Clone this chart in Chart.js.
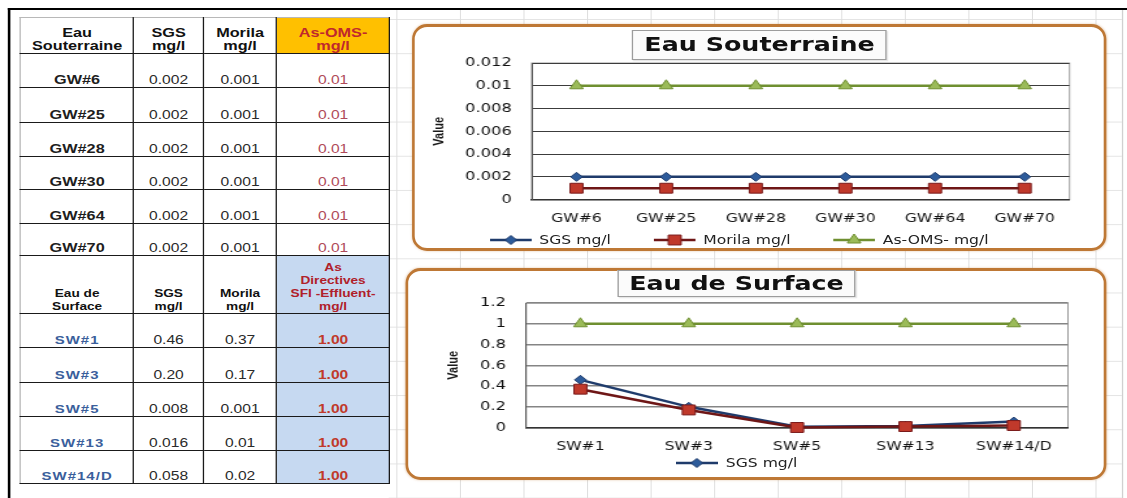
<!DOCTYPE html>
<html lang="fr">
<head>
<meta charset="UTF-8">
<title>Eau Souterraine - Eau de Surface</title>
<script src="https://cdn.jsdelivr.net/npm/chart.js@4.4.1/dist/chart.umd.min.js"></script>
<style>
  html, body { margin: 0; padding: 0; background: #fff; }
  body { width: 1127px; height: 498px; overflow: hidden; position: relative; }
  /* the source picture is stretched sideways: lay out narrow, then scale */
  #sheet { position: absolute; left: 0; top: 0; width: 867px; height: 498px;
           transform: scaleX(1.3); transform-origin: 0 0; }
  .cells { position: absolute; left: 299px; top: 10px; width: 564px; bottom: 0;
           border-right: 1px solid #d0d0d0;
           background-image: linear-gradient(to right, #dedede 1px, transparent 1px),
                             linear-gradient(to bottom, #e4e4e4 1px, transparent 1px);
           background-size: 48.9px 34.2px;
           background-position: 54.8px 9px; }
  .frame { position: absolute; left: 6px; top: 7.5px; width: 870px; height: 500px;
           border-top: 2.5px solid #000; border-left: 2.3px solid #000; }
  #tbl { position: absolute; left: 15.4px; top: 17px; border-collapse: collapse;
         table-layout: fixed; width: 284px; background: #fff;
         font-family: "Liberation Sans", Arial, sans-serif; }
  #tbl td { border: 1.5px solid #1a1a1a; text-align: center; vertical-align: bottom;
            padding: 0; white-space: nowrap; overflow: hidden; line-height: 13px; }
  #tbl tr:first-child td { border-top: 1px solid #b8b8b8; }
  #tbl td:first-child { border-left: 1px solid #b8b8b8; }
  .h1 td { font-weight: bold; font-size: 12.5px; color: #111; padding-bottom: 2px; }
  .h1 td.lim { background: #ffc000; color: #c0282d; }
  .h2 td { font-weight: bold; font-size: 10.5px; color: #111; line-height: 12.8px; padding-bottom: 3px; }
  .h2 td.lim { background: #c6d9f1; color: #b0202a; }
  td.site { font-weight: bold; font-size: 12.5px; color: #1e1e1e; }
  td.val { font-size: 12px; color: #2a2a2a; }
  td.gwlim { font-size: 12px; color: #b04a5a; }
  td.swsite { font-weight: bold; font-size: 11.5px; color: #3b5f9c; letter-spacing: 0.8px; }
  td.swlim { background: #c6d9f1; font-size: 12px; font-weight: bold; color: #c0392b; }
  .box { position: absolute; box-sizing: border-box; border: solid #be7835; border-width: 3px 2.3px;
         border-radius: 11.5px / 15px; background: #fff; box-shadow: 0 0 2px rgba(190,120,53,.45); }
  #box1 { left: 316.9px; top: 24px; width: 534.6px; height: 227px; }
  #box2 { left: 312.3px; top: 268px; width: 539.2px; height: 212px; }
  .box .cv { position: absolute; left: 0; top: 0; right: 0; bottom: 0; }
  .ttl { position: absolute; box-sizing: border-box; border: 1px solid #9c9c9c; background: #fbfbfb;
         font-family: "DejaVu Sans", sans-serif; font-weight: bold; font-size: 19.5px; color: #111;
         text-align: center; white-space: nowrap; box-shadow: 1px 1px 1px rgba(0,0,0,.12); }
  #ttl1 { left: 486.2px; top: 30px; width: 196.2px; height: 30px; line-height: 28px; }
  #ttl2 { left: 475.4px; top: 270px; width: 182.3px; height: 27px; line-height: 25px; }
  .lg { position: absolute; display: flex; gap: 33px; font-family: "DejaVu Sans", sans-serif;
        font-size: 12px; color: #222; line-height: 14px; white-space: nowrap; }
  .lg span { display: flex; align-items: center; }
  .lg canvas { margin-right: 6px; }
  #lg1 { left: 58px; top: 206px; }
  #lg2 { left: 206px; top: 185px; }
</style>
</head>
<body>
<div id="sheet">
  <div class="cells"></div>
  <div class="frame"></div>
  <table id="tbl">
    <colgroup><col style="width:86.9px"><col style="width:53.8px"><col style="width:56.2px"><col style="width:86.9px"></colgroup>
    <tbody></tbody>
  </table>
  <div class="box" id="box1"><div class="cv"><canvas id="chart1"></canvas></div><div class="lg" id="lg1"></div></div>
  <div class="box" id="box2"><div class="cv"><canvas id="chart2"></canvas></div><div class="lg" id="lg2"></div></div>
  <div class="ttl" id="ttl1">Eau Souterraine</div>
  <div class="ttl" id="ttl2">Eau de Surface</div>
</div>

<script>
  // data
  const gwSites = ['GW#6', 'GW#25', 'GW#28', 'GW#30', 'GW#64', 'GW#70'];
  const gwSGS = [0.002, 0.002, 0.002, 0.002, 0.002, 0.002];
  const gwMorila = [0.001, 0.001, 0.001, 0.001, 0.001, 0.001];
  const gwOMS = [0.01, 0.01, 0.01, 0.01, 0.01, 0.01];

  const swSites = ['SW#1', 'SW#3', 'SW#5', 'SW#13', 'SW#14/D'];
  const swSGS = [0.46, 0.20, 0.008, 0.016, 0.058];
  const swMorila = [0.37, 0.17, 0.001, 0.01, 0.02];
  const swLimit = [1, 1, 1, 1, 1];

  const gwTicks = [0, 0.002, 0.004, 0.006, 0.008, 0.01, 0.012];
  const swTicks = [0, 0.2, 0.4, 0.6, 0.8, 1, 1.2];

  // ---- table ----
  const fmt = v => v >= 0.1 ? v.toFixed(2) : String(v);
  const tb = document.querySelector('#tbl tbody');
  function row(cls, h, cells) {
    const tr = document.createElement('tr');
    if (cls) tr.className = cls;
    tr.style.height = h + 'px';
    cells.forEach(([c, txt]) => {
      const td = document.createElement('td');
      if (c) td.className = c;
      td.innerHTML = txt;
      tr.appendChild(td);
    });
    tb.appendChild(tr);
  }
  row('h1', 36, [['', 'Eau<br>Souterraine'], ['', 'SGS<br>mg/l'], ['', 'Morila<br>mg/l'], ['lim', 'As-OMS-<br>mg/l']]);
  const gwH = [34, 35, 34, 33, 34, 32];
  gwSites.forEach((s, i) => row('', gwH[i], [['site', s], ['val', fmt(gwSGS[i])], ['val', fmt(gwMorila[i])], ['gwlim', fmt(gwOMS[i])]]));
  row('h2', 58, [['', 'Eau de<br>Surface'], ['', 'SGS<br>mg/l'], ['', 'Morila<br>mg/l'], ['lim', 'As<br>Directives<br>SFI -Effluent-<br>mg/l']]);
  const swH = [34, 35, 34, 34, 33];
  swSites.forEach((s, i) => row('', swH[i], [['swsite', s], ['val', fmt(swSGS[i])], ['val', fmt(swMorila[i])], ['swlim', fmt(swLimit[i])]]));

  // ---- charts ----
  Chart.defaults.font.family = '"DejaVu Sans", sans-serif';
  Chart.defaults.font.size = 12;
  Chart.defaults.color = '#151515';

  const styles = [
    { line: '#1f3b6b', fill: '#2d5b9a', edge: '#1f3b6b', shape: 'rectRot', r: 4.5 },
    { line: '#6e1616', fill: '#c0392b', edge: '#7a1a1a', shape: 'rect', r: 7 },
    { line: '#6f8f30', fill: '#9bbb59', edge: '#6f8f30', shape: 'triangle', r: 6 }
  ];

  function makeSet(label, data, k) {
    const s = styles[k];
    return {
      label, data,
      borderColor: s.line, backgroundColor: s.fill, borderWidth: 2.5,
      pointStyle: s.shape, pointRadius: s.r,
      pointBackgroundColor: s.fill, pointBorderColor: s.edge, pointBorderWidth: 1,
      order: 3 - k, tension: 0, clip: false
    };
  }

  // grey frame round the plot area, like Excel's plot border
  const frame = {
    id: 'frame',
    beforeDraw(chart) {
      const { ctx, chartArea: a } = chart;
      ctx.save();
      ctx.strokeStyle = '#9a9a9a';
      ctx.lineWidth = 1;
      ctx.strokeRect(a.left, a.top, a.right - a.left, a.bottom - a.top);
      ctx.restore();
    }
  };

  function makeChart(id, labels, sets, ticks, o) {
    return new Chart(document.getElementById(id), {
      type: 'line',
      data: { labels, datasets: sets },
      plugins: [frame],
      options: {
        responsive: true, maintainAspectRatio: false, animation: false, events: [],
        layout: { padding: o.pad, autoPadding: false },
        plugins: { legend: { display: false }, tooltip: { enabled: false } },
        scales: {
          x: {
            offset: true,
            grid: { display: false, drawTicks: false },
            border: { color: '#333', width: 1.5 },
            ticks: { padding: 12, maxRotation: 0, autoSkip: false, color: '#151515', font: { size: 12 } }
          },
          y: {
            min: ticks[0], max: ticks[ticks.length - 1],
            afterBuildTicks: s => { s.ticks = ticks.map(v => ({ value: v })); },
            afterFit: s => { s.width = o.yw; },
            grid: { color: o.grid, lineWidth: o.gw, drawTicks: false },
            border: { color: '#555', width: 1 },
            ticks: { padding: o.tp, autoSkip: false, color: '#111', font: { size: 12.5 }, callback: v => String(v) },
            title: {
              display: true, text: 'Value', color: '#1a1a1a',
              padding: { top: o.tt, bottom: 0 },
              font: { family: '"Liberation Sans", Arial, sans-serif', weight: 'bold', size: 11 }
            }
          }
        }
      }
    });
  }

  function mark(ctx, s, x, y) {
    const r = s.r;
    ctx.beginPath();
    if (s.shape === 'rectRot') {
      ctx.moveTo(x, y - r); ctx.lineTo(x + r, y); ctx.lineTo(x, y + r); ctx.lineTo(x - r, y);
    } else if (s.shape === 'rect') {
      const h = r * Math.SQRT1_2;
      ctx.rect(x - h, y - h, 2 * h, 2 * h);
    } else {
      ctx.moveTo(x, y - r); ctx.lineTo(x + r * 0.866, y + r / 2); ctx.lineTo(x - r * 0.866, y + r / 2);
    }
    ctx.closePath();
    ctx.fillStyle = s.fill; ctx.fill();
    ctx.strokeStyle = s.edge; ctx.lineWidth = 1; ctx.stroke();
  }

  function legend(el, chart, keep) {
    keep.forEach(i => {
      const ds = chart.data.datasets[i];
      const item = document.createElement('span');
      const c = document.createElement('canvas');
      c.width = 32; c.height = 14;
      const ctx = c.getContext('2d');
      ctx.strokeStyle = ds.borderColor; ctx.lineWidth = 2.5;
      ctx.beginPath(); ctx.moveTo(0, 7); ctx.lineTo(32, 7); ctx.stroke();
      mark(ctx, styles[i], 16, 7);
      item.appendChild(c);
      item.appendChild(document.createTextNode(ds.label));
      el.appendChild(item);
    });
  }

  const chart1 = makeChart('chart1', gwSites, [
    makeSet('SGS mg/l', gwSGS, 0),
    makeSet('Morila mg/l', gwMorila, 1),
    makeSet('As-OMS- mg/l', gwOMS, 2)
  ], gwTicks, { pad: { top: 36, right: 26.9, bottom: 10, left: 0 }, yw: 90, tp: 15.4, tt: 12.7, grid: '#3c3c3c', gw: 1 });

  const chart2 = makeChart('chart2', swSites, [
    makeSet('SGS mg/l', swSGS, 0),
    makeSet('Morila mg/l', swMorila, 1),
    makeSet('As Directives SFI -Effluent- mg/l', swLimit, 2)
  ], swTicks, { pad: { top: 32, right: 27.7, bottom: 11, left: 0 }, yw: 90.8, tp: 15.6, tt: 28.8, grid: '#858585', gw: 1.5 });

  legend(document.getElementById('lg1'), chart1, [0, 1, 2]);
  legend(document.getElementById('lg2'), chart2, [0]);
</script>
</body>
</html>
